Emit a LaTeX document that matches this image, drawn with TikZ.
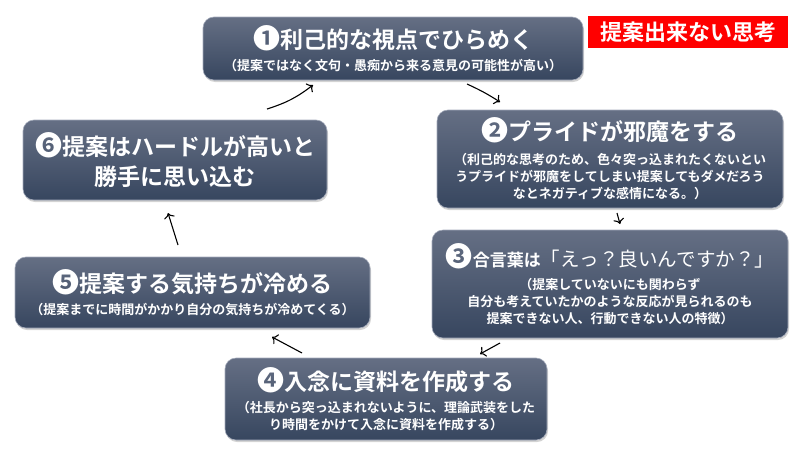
\documentclass[tikz,border=0pt]{standalone}
\usepackage{fontspec}
\setmainfont{Noto Sans CJK JP}[BoldFont={Noto Sans CJK JP Bold}]
\usetikzlibrary{shadows,arrows.meta}

\definecolor{slatetop}{HTML}{656F84}
\definecolor{slatebot}{HTML}{37465F}
\definecolor{slaterim}{HTML}{A3AABA}

\newcommand{\bigline}[1]{{\fontsize{23}{27}\selectfont #1}}
\newcommand{\dnum}[1]{{\fontsize{27}{27}\selectfont #1}}

\begin{document}
\begin{tikzpicture}[x=1pt,y=-1pt,
  stage/.style={rectangle, rounded corners=11pt, draw=slaterim, line width=0.6pt,
    top color=slatetop, bottom color=slatebot, text=white, align=center, inner sep=0pt,
    font=\fontsize{13}{17}\selectfont\bfseries,
    drop shadow={opacity=0.35, shadow xshift=1pt, shadow yshift=-2pt}},
  flow/.style={-{To[scale=1.3]}, line width=1.1pt, black},
  banner/.style={fill=red, text=white, inner sep=0pt, font=\fontsize{22}{26}\selectfont\bfseries}]
 \useasboundingbox (0,0) rectangle (800,450);

 \node[stage, minimum width=380pt, minimum height=63pt] (idea) at (393,48.5)
  {\bigline{\dnum{❶}利己的な視点でひらめく}\\[5pt]（提案ではなく文句・愚痴から来る意見の可能性が高い）};
 \node[banner, minimum width=200pt, minimum height=32pt] (label) at (688,32) {提案出来ない思考};

 \node[stage, minimum width=346pt, minimum height=98pt] (pride) at (610,159)
  {\bigline{\dnum{❷}プライドが邪魔をする}\\[7pt]（利己的な思考のため、色々突っ込まれたくないとい\\うプライドが邪魔をしてしまい提案してもダメだろう\\なとネガティブな感情になる。）};

 \node[stage, minimum width=356pt, minimum height=108pt] (answer) at (610,284)
  {\dnum{❸}{\fontsize{17}{20}\selectfont 合言葉は}{\fontsize{19.5}{24}\selectfont\mdseries 「えっ？良いんですか？」}\\[6pt]（提案していないにも関わらず\\自分も考えていたかのような反応が見られるのも\\提案できない人、行動できない人の特徴）};

 \node[stage, minimum width=322pt, minimum height=82pt] (docs) at (386,399)
  {\bigline{\dnum{❹}入念に資料を作成する}\\[5pt]（社長から突っ込まれないように、理論武装をした\\り時間をかけて入念に資料を作成する）};

 \node[stage, minimum width=355pt, minimum height=71pt] (cool) at (192.5,292.5)
  {\bigline{\dnum{❺}提案する気持ちが冷める}\\[5pt]（提案までに時間がかかり自分の気持ちが冷めてくる）};

 \node[stage, minimum width=304pt, minimum height=80pt, font=\fontsize{23}{30}\selectfont\bfseries] (hurdle) at (175,160)
  {\dnum{❻}提案はハードルが高いと\\勝手に思い込む};

 \coordinate (a61) at (267,109); \coordinate (b61) at (313,85);
 \coordinate (a12) at (467,84);  \coordinate (b12) at (500,102);
 \coordinate (a23) at (617,213); \coordinate (b23) at (620,224);
 \coordinate (a34) at (500,343); \coordinate (b34) at (480,354);
 \coordinate (a45) at (302,353); \coordinate (b45) at (272,337);
 \coordinate (a56) at (178,245); \coordinate (b56) at (168,213);

 \draw[flow] (a61) to[bend right=10] (b61);
 \draw[flow] (a12) to[bend left=4] (b12);
 \draw[flow] (a23) -- (b23);
 \draw[flow] (a34) -- (b34);
 \draw[flow] (a45) -- (b45);
 \draw[flow] (a56) -- (b56);
\end{tikzpicture}
\end{document}
